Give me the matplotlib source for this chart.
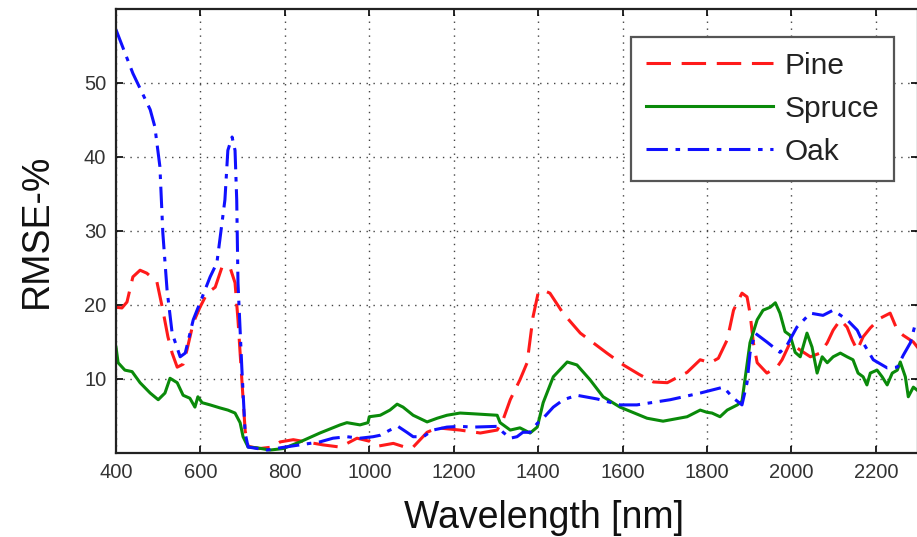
import matplotlib
matplotlib.use("Agg")
import matplotlib.pyplot as plt

# values (wavelength nm, RMSE %)
pine_x = [400, 414, 426, 440, 457, 473, 497, 511, 523, 533, 545, 559, 568, 583, 599, 616, 635,
          651, 670, 682, 689, 698, 706, 713, 740, 770, 789, 820, 850, 890, 931, 971, 1000, 1018,
          1057, 1090, 1104, 1137, 1161, 1215, 1263, 1303, 1317, 1334, 1357, 1374, 1388, 1400,
          1412, 1428, 1459, 1500, 1563, 1602, 1640, 1673, 1706, 1753, 1784, 1808, 1827, 1848,
          1863, 1883, 1895, 1902, 1910, 1919, 1942, 1966, 1978, 1997, 2021, 2045, 2068, 2085,
          2099, 2116, 2132, 2144, 2156, 2170, 2187, 2210, 2234, 2251, 2265, 2289, 2300]
pine_y = [19.7, 19.6, 20.4, 23.8, 24.7, 24.3, 23.1, 19.3, 15.7, 13.5, 11.6, 12.0, 13.9, 17.6,
          19.7, 21.6, 22.4, 25.1, 25.1, 23.0, 18.0, 10.0, 3.0, 0.9, 0.6, 0.8, 1.5, 1.8, 1.5, 1.1,
          0.8, 2.0, 1.6, 0.9, 1.3, 0.7, 0.8, 2.8, 3.4, 3.1, 2.7, 3.1, 4.5, 7.2, 9.9, 12.2, 18.4,
          21.6, 22.0, 21.6, 18.9, 16.2, 13.5, 11.9, 10.6, 9.6, 9.5, 10.9, 12.6, 12.2, 12.8, 15.3,
          19.3, 21.6, 21.1, 18.9, 14.9, 12.2, 10.8, 11.6, 12.6, 14.9, 13.9, 13.0, 13.5, 14.9,
          16.6, 18.0, 17.0, 15.3, 13.9, 15.7, 16.9, 18.2, 18.9, 16.6, 15.9, 15.0, 14.2]

spruce_x = [400, 405, 421, 438, 457, 481, 500, 516, 528, 545, 559, 575, 587, 594, 604, 623, 646,
            665, 682, 694, 701, 713, 734, 765, 796, 836, 883, 931, 947, 978, 997, 1000, 1026,
            1049, 1066, 1080, 1104, 1137, 1161, 1184, 1215, 1246, 1303, 1310, 1334, 1357, 1381,
            1398, 1412, 1436, 1469, 1492, 1523, 1554, 1594, 1658, 1696, 1753, 1784, 1800, 1812,
            1831, 1848, 1872, 1883, 1890, 1902, 1919, 1933, 1950, 1962, 1973, 1985, 1997, 2009,
            2021, 2037, 2049, 2061, 2073, 2085, 2099, 2116, 2132, 2146, 2158, 2170, 2179, 2187,
            2203, 2215, 2227, 2239, 2251, 2258, 2270, 2277, 2289, 2300]
spruce_y = [14.3, 12.2, 11.2, 11.0, 9.5, 8.1, 7.2, 8.1, 10.1, 9.5, 7.8, 7.4, 6.2, 7.6, 6.8, 6.5,
            6.1, 5.8, 5.4, 4.1, 2.2, 0.8, 0.7, 0.4, 0.6, 1.5, 2.7, 3.8, 4.1, 3.8, 4.1, 4.9, 5.1,
            5.8, 6.6, 6.2, 5.1, 4.2, 4.7, 5.1, 5.4, 5.3, 5.1, 4.1, 3.1, 3.4, 2.7, 3.5, 6.8, 10.3,
            12.3, 11.9, 9.9, 7.6, 6.2, 4.7, 4.3, 4.9, 5.8, 5.5, 5.4, 4.9, 5.8, 6.5, 7.0, 9.9,
            14.9, 18.0, 19.3, 19.7, 20.3, 18.9, 16.4, 15.9, 13.6, 13.0, 16.2, 14.3, 10.8, 13.0,
            12.2, 13.0, 13.5, 13.0, 12.6, 10.8, 10.3, 9.2, 10.8, 11.2, 10.3, 9.2, 10.8, 11.2,
            12.3, 10.3, 7.6, 8.9, 8.4]

oak_x = [400, 440, 481, 492, 504, 511, 521, 533, 552, 564, 583, 599, 623, 639, 646, 658, 665,
         675, 682, 686, 689, 698, 706, 713, 758, 789, 836, 883, 914, 947, 978, 1009, 1026, 1049,
         1068, 1089, 1104, 1128, 1151, 1184, 1215, 1246, 1303, 1317, 1334, 1350, 1364, 1381,
         1398, 1412, 1436, 1460, 1492, 1540, 1594, 1634, 1713, 1784, 1839, 1863, 1883, 1895,
         1902, 1914, 1942, 1973, 1990, 2013, 2045, 2075, 2099, 2132, 2156, 2170, 2194, 2227,
         2251, 2265, 2282, 2293, 2300]
oak_y = [57.2, 51.3, 46.4, 44.1, 38.7, 29.7, 22.0, 16.2, 13.0, 13.5, 18.0, 20.3, 23.8, 25.7,
         28.8, 34.2, 40.9, 42.7, 40.9, 34.2, 23.0, 11.6, 2.7, 0.8, 0.4, 0.7, 1.1, 1.5, 2.0, 2.2,
         2.0, 2.2, 2.4, 3.1, 3.6, 2.8, 2.2, 2.2, 3.1, 3.5, 3.6, 3.5, 3.6, 2.8, 2.0, 2.2, 2.8,
         2.8, 4.0, 4.7, 6.2, 7.2, 7.8, 7.3, 6.5, 6.5, 7.2, 8.1, 8.9, 7.4, 6.5, 9.5, 13.5, 16.2,
         15.0, 13.6, 14.6, 17.0, 18.9, 18.6, 19.3, 18.0, 16.6, 14.9, 12.6, 11.5, 11.6, 13.2,
         14.9, 17.3, 17.8]

x_ticks = [400, 600, 800, 1000, 1200, 1400, 1600, 1800, 2000, 2200]
y_ticks = [10, 20, 30, 40, 50]

plt.rcParams['font.family'] = ['Liberation Sans', 'DejaVu Sans']

fig = plt.figure(figsize=(9.17, 5.37), dpi=100)
# right edge of the box sits just past the picture edge, like the cropped original
ax = fig.add_axes([116 / 917, 84 / 537, 802 / 917, 444 / 537])

lw = 2.2
ax.plot(pine_x, pine_y, color='#ff1a1a', lw=lw, dashes=(8, 3.5), label='Pine')
ax.plot(spruce_x, spruce_y, color='#0a8a0a', lw=lw, label='Spruce')
ax.plot(oak_x, oak_y, color='#1010ff', lw=lw, dashes=(7, 2.5, 1.5, 2.5), label='Oak')

ax.set_xlim(400, 2300)
ax.set_ylim(0, 60)
ax.set_xticks(x_ticks)
ax.set_yticks(y_ticks)
ax.grid(True, color='#444444', linestyle=(0, (1, 4)), linewidth=1.0)
ax.tick_params(direction='in', length=5, width=1.2, top=True, right=True,
               labelsize=14.5, labelcolor='#333333', pad=7)
for s in ax.spines.values():
    s.set_linewidth(1.6)
    s.set_color('#222222')

ax.set_xlabel('Wavelength [nm]', fontsize=27, color='#111111')
ax.xaxis.set_label_coords(0.534, -0.105)
ax.set_ylabel('RMSE-%', fontsize=27, color='#111111', labelpad=21)

leg = ax.legend(loc='upper right', bbox_to_anchor=(0.970, 0.937), fontsize=21.5,
                handlelength=4.25, handletextpad=0.37, labelspacing=0.5,
                borderaxespad=0, fancybox=False, framealpha=1, borderpad=0.5)
leg.get_frame().set_edgecolor('#555555')
leg.get_frame().set_linewidth(1.6)
for t in leg.get_texts():
    t.set_color('#222222')

fig.savefig('out.png', dpi=100)
